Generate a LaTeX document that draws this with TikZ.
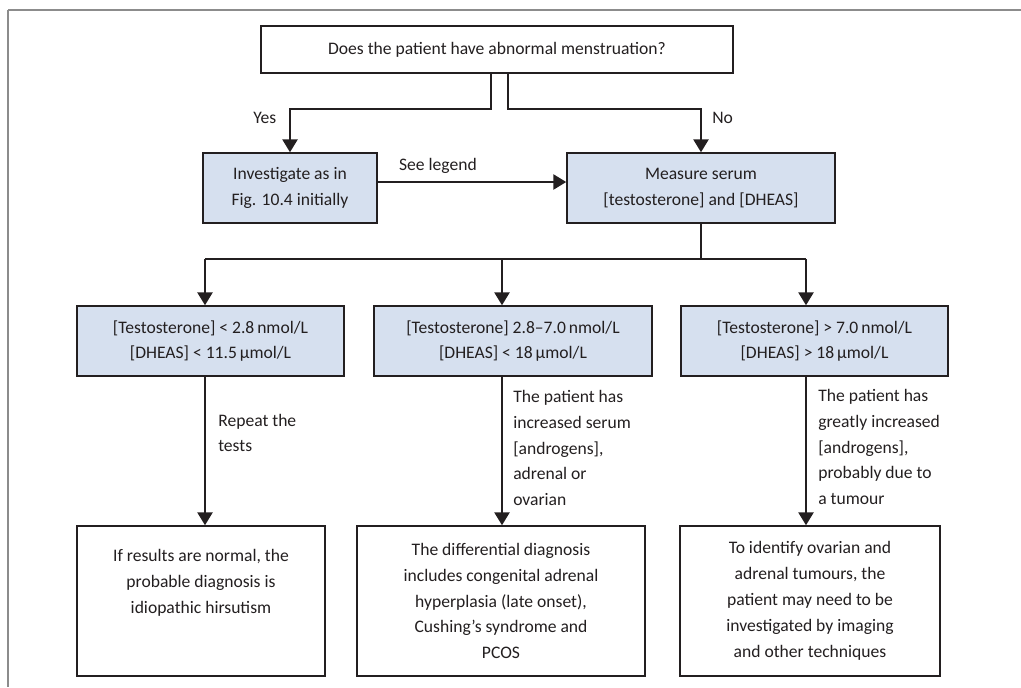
\documentclass[tikz,border=0pt]{standalone}
\usepackage{fontspec}
\setmainfont{Carlito}
\usetikzlibrary{arrows.meta,calc}
\definecolor{ink}{HTML}{231F20}
\definecolor{boxfill}{HTML}{D6E0EF}
\definecolor{framegray}{HTML}{8C8C8C}
\tikzset{
  % ---- boxes -----------------------------------------------------
  qbox/.style   = {draw=ink, line width=1.1pt, fill=white, align=center,
                   inner sep=0pt, text=ink,
                   font=\fontsize{12.5}{18.4}\selectfont},
  tbox/.style   = {qbox, fill=boxfill},
  % ---- connectors ------------------------------------------------
  flow/.style   = {draw=ink, line width=1.1pt,
                   -{Triangle[width=3.8mm,length=3.2mm]}},
  link/.style   = {draw=ink, line width=1.1pt},
  elab/.style   = {font=\fontsize{12.5}{18.4}\selectfont, text=ink,
                   inner sep=0pt, align=left},
  txt/.style    = {elab, align=center},
}

\begin{document}
\begin{tikzpicture}[x=0.025cm, y=-0.025cm]
\useasboundingbox (0,0) rectangle (1021,687);
\draw[framegray, line width=1.4pt] (1021,10) -- (8,10);
\draw[framegray, line width=0.8pt] (8,10) -- (8,687);
% question and first split
\node[qbox, minimum width=11.8cm, minimum height=1.175cm] (ask) at (497,49.5)
  {Does the patient have abnormal menstruation?};
\node[tbox, minimum width=4.35cm, minimum height=1.75cm] (inv) at (290,188)
  {Investigate as in\\Fig. 10.4 initially};
\node[tbox, minimum width=6.7cm, minimum height=1.75cm] (meas) at (701,188)
  {Measure serum\\{[testosterone]} and [DHEAS]};
\coordinate (yes) at (491,109);
\coordinate (no) at (508,109);
\draw[flow] (ask.south -| yes) -- (yes) -| (inv.north);
\draw[flow] (ask.south -| no) -- (no) -| (meas.north);
\node[elab, anchor=west] (yeslab) at (253,118) {Yes};
\node[elab, anchor=west] (nolab) at (712,118) {No};
\draw[flow] ([yshift=0.15cm]inv.east) -- ([yshift=0.15cm]meas.west);
\node[elab] (seelab) at (438,166) {See legend};
% test results
\node[tbox, minimum width=6.675cm, minimum height=1.75cm] (lo) at (210.5,341)
  {{[Testosterone]} < 2.8\,nmol/L\\{[DHEAS]} < 11.5\,µmol/L};
\node[tbox, minimum width=6.95cm, minimum height=1.75cm] (mid) at (513,341)
  {{[Testosterone]} 2.8--7.0\,nmol/L\\{[DHEAS]} < 18\,µmol/L};
\node[tbox, minimum width=6.675cm, minimum height=1.75cm] (hi) at (814.5,341)
  {{[Testosterone]} > 7.0\,nmol/L\\{[DHEAS]} > 18\,µmol/L};
\coordinate (bus) at (701,259);
\coordinate (b1) at (205,259);
\coordinate (b2) at (502,259);
\coordinate (b3) at (806,259);
\draw[link] (meas.south) -- (bus);
\draw[link] (b1) -- (b3);
\draw[flow] (b1) -- (lo.north -| b1);
\draw[flow] (b2) -- (mid.north -| b2);
\draw[flow] (b3) -- (hi.north -| b3);
% conclusions
\node[qbox, minimum width=6.2cm, minimum height=3.75cm] (res1) at (201,601) {};
\node[txt] (res1t) at (201,583)
  {If results are normal, the\\probable diagnosis is\\idiopathic hirsutism};
\node[qbox, minimum width=7.2cm, minimum height=3.75cm] (res2) at (501,601)
  {The differential diagnosis\\includes congenital adrenal\\hyperplasia (late onset),\\Cushing\symbol{"27}s syndrome and\\PCOS};
\node[qbox, minimum width=6.5cm, minimum height=3.75cm] (res3) at (810,601)
  {To identify ovarian and\\adrenal tumours, the\\patient may need to be\\investigated by imaging\\and other techniques};
\draw[flow] (lo.south -| b1) -- (res1.north -| b1);
\draw[flow] (mid.south -| b2) -- (res2.north -| b2);
\draw[flow] (hi.south -| b3) -- (res3.north -| b3);
\node[elab, anchor=west] (lolab) at (218,433) {Repeat the\\tests};
\node[elab, anchor=west] (midlab) at (513,448)
  {The patient has\\increased serum\\{[androgens]},\\adrenal or\\ovarian};
\node[elab, anchor=west] (hilab) at (818,447)
  {The patient has\\greatly increased\\{[androgens]},\\probably due to\\a tumour};
\end{tikzpicture}
\end{document}
